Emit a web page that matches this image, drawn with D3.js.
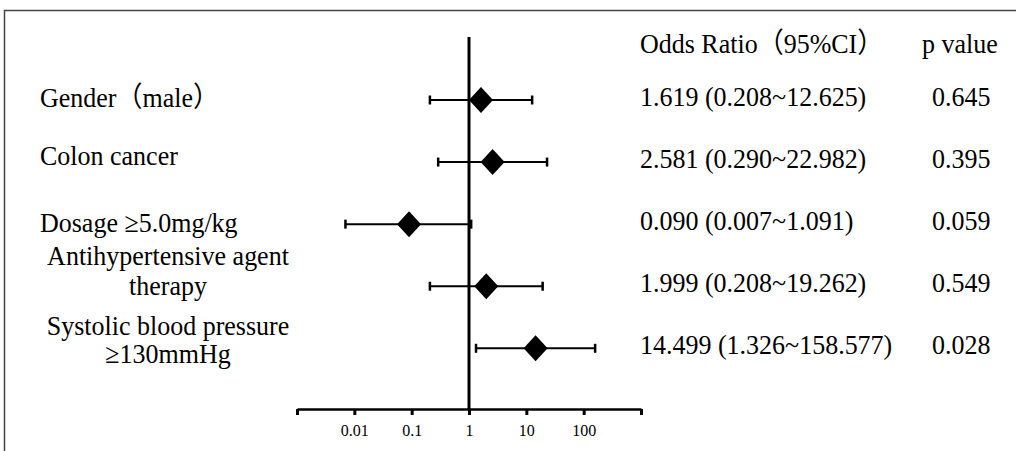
<!DOCTYPE html>
<html>
<head>
<meta charset="utf-8">
<script src="https://cdn.jsdelivr.net/npm/d3@7"></script>
<style>
  html, body { margin: 0; padding: 0; background: #fff; }
  svg { display: block; }
  text { font-family: "Liberation Serif", "Noto Sans CJK SC", serif; fill: #000; }
</style>
</head>
<body>
<svg id="chart" width="1016" height="451"></svg>
<script>
// ---- data ----
const categories = [
  ["Gender\uFF08male\uFF09"],
  ["Colon cancer"],
  ["Dosage \u22655.0mg/kg"],
  ["Antihypertensive agent", "therapy"],
  ["Systolic blood pressure", "\u2265130mmHg"]
];
const oddsRatio = [1.619, 2.581, 0.090, 1.999, 14.499];
const ciLower   = [0.208, 0.290, 0.007, 0.208, 1.326];
const ciUpper   = [12.625, 22.982, 1.091, 19.262, 158.577];
const orLabels  = [
  "1.619 (0.208~12.625)",
  "2.581 (0.290~22.982)",
  "0.090 (0.007~1.091)",
  "1.999 (0.208~19.262)",
  "14.499 (1.326~158.577)"
];
const pValues = ["0.645", "0.395", "0.059", "0.549", "0.028"];
const tickValues = [0.001, 0.01, 0.1, 1, 10, 100, 1000];
const tickLabels = ["", "0.01", "0.1", "1", "10", "100", ""];
const headerOR = "Odds Ratio\uFF0895%CI\uFF09";
const headerP = "p value";

// ---- layout (not data) ----
const labelBaselineOffset = [[7], [3], [8], [-21, 9], [-13, 15]];
const svg = d3.select("#chart");
const x = d3.scaleLog().domain([0.001, 1000]).range([297, 641]);
const y = d3.scalePoint().domain(d3.range(categories.length)).range([100, 348.3]);
const axisY = 409;
const fs = 26, sy = 1.08;

function txt(xp, yp, s, anchor) {
  return svg.append("text")
    .attr("transform", `translate(${xp},${yp}) scale(1,${sy})`)
    .attr("text-anchor", anchor || "start")
    .style("font-size", fs + "px")
    .text(s);
}

// frame
svg.append("path")
  .attr("d", "M4.5,451 V10.5 H1016")
  .attr("fill", "none").attr("stroke", "#444").attr("stroke-width", 1.5);

// reference line at OR = 1
svg.append("line")
  .attr("x1", x(1)).attr("x2", x(1))
  .attr("y1", 37).attr("y2", axisY)
  .attr("stroke", "#000").attr("stroke-width", 3);

// axis
const axis = d3.axisBottom(x)
  .tickValues(tickValues)
  .tickFormat((d, i) => tickLabels[i])
  .tickSize(6).tickSizeOuter(0);
const gAxis = svg.append("g").attr("transform", `translate(0,${axisY})`).call(axis);
gAxis.select(".domain").attr("stroke", "#000").attr("stroke-width", 2.5);
gAxis.selectAll(".tick line").attr("stroke", "#000").attr("stroke-width", 3);
gAxis.selectAll(".tick text")
  .attr("y", 27).attr("dy", 0)
  .style("font-family", "'Liberation Serif', serif")
  .style("font-size", "16px").attr("fill", "#000");

// CI lines
const idx = d3.range(categories.length);
const g = svg.append("g");
g.selectAll(".ci").data(idx).join("line")
  .attr("x1", i => x(ciLower[i])).attr("x2", i => x(ciUpper[i]))
  .attr("y1", i => y(i)).attr("y2", i => y(i))
  .attr("stroke", "#000").attr("stroke-width", 2);
g.selectAll(".capL").data(idx).join("line")
  .attr("x1", i => x(ciLower[i])).attr("x2", i => x(ciLower[i]))
  .attr("y1", i => y(i) - 4.5).attr("y2", i => y(i) + 4.5)
  .attr("stroke", "#000").attr("stroke-width", 2.5);
g.selectAll(".capR").data(idx).join("line")
  .attr("x1", i => x(ciUpper[i])).attr("x2", i => x(ciUpper[i]))
  .attr("y1", i => y(i) - 4.5).attr("y2", i => y(i) + 4.5)
  .attr("stroke", "#000").attr("stroke-width", 2.5);

// diamonds
const hw = 12, hh = 13;
g.selectAll(".dia").data(idx).join("path")
  .attr("d", i => {
    const cx = x(oddsRatio[i]), cy = y(i);
    return `M${cx},${cy - hh} L${cx + hw},${cy} L${cx},${cy + hh} L${cx - hw},${cy} Z`;
  })
  .attr("fill", "#000");

// left labels
categories.forEach((lines, i) => {
  if (lines.length === 1) {
    txt(40, y(i) + labelBaselineOffset[i][0], lines[0]);
  } else {
    lines.forEach((s, j) => {
      txt(168, y(i) + labelBaselineOffset[i][j], s, "middle");
    });
  }
});

// header
txt(640, 53, headerOR);
txt(922, 53, headerP);

// right columns
idx.forEach(i => {
  txt(640, y(i) + 6, orLabels[i]);
  txt(932, y(i) + 6, pValues[i]);
});
</script>
</body>
</html>
